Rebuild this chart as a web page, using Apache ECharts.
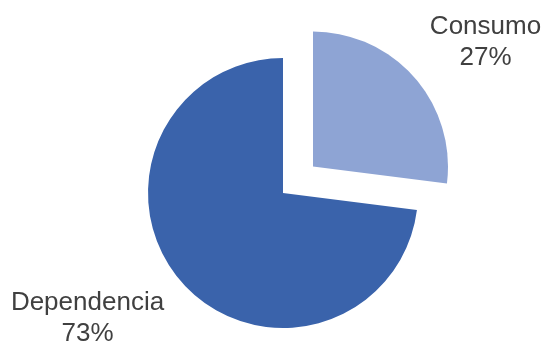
<!DOCTYPE html>
<html><head><meta charset="utf-8">
<script src="https://cdn.jsdelivr.net/npm/echarts@6/dist/echarts.min.js"></script>
<style>html,body{margin:0;padding:0;background:#fff}#c{width:546px;height:345px}</style>
</head><body><div id="c"></div>
<script>
var categories = ['Consumo', 'Dependencia'];
var values = [27, 73];
var colors = ['#8EA4D4', '#3A63AB'];
var chart = echarts.init(document.getElementById('c'));
var labelPos = [
  {x: 485.5, y: 42.5},
  {x: 87.5, y: 318.5}
];
var total = values.reduce(function (a, b) { return a + b; }, 0);
chart.setOption({
  animation: false,
  graphic: categories.map(function (c, i) {
    return {
      type: 'text',
      x: labelPos[i].x,
      y: labelPos[i].y,
      silent: true,
      style: {
        text: c + '\n' + Math.round(values[i] / total * 100) + '%',
        font: '26px "Liberation Sans", Arial, sans-serif',
        lineHeight: 31,
        fill: '#404040',
        align: 'center',
        verticalAlign: 'middle'
      }
    };
  }),
  series: [{
    type: 'pie',
    center: [283, 193],
    radius: 135,
    startAngle: 90,
    clockwise: true,
    selectedMode: 'multiple',
    selectedOffset: 40,
    label: {show: false},
    labelLine: {show: false},
    itemStyle: {borderWidth: 0},
    emphasis: {disabled: true},
    data: categories.map(function (c, i) {
      return {name: c, value: values[i], selected: i === 0, itemStyle: {color: colors[i]}};
    })
  }]
});
</script></body></html>
